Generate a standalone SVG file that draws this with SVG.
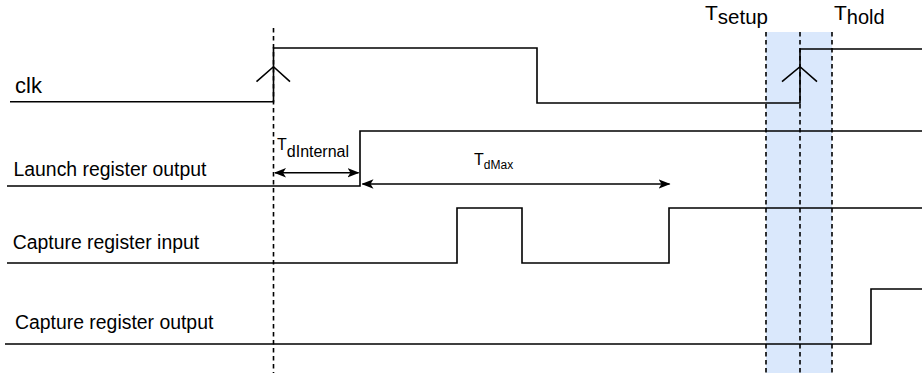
<svg xmlns="http://www.w3.org/2000/svg" width="922" height="379" viewBox="0 0 922 379">
<style>
.w{fill:none;stroke:#000;stroke-width:1.6;stroke-linejoin:miter}
.d{fill:none;stroke:#000;stroke-width:1.6;stroke-dasharray:4.5 3.5}
.t{font-family:"Liberation Sans",Arial,Helvetica,sans-serif;fill:#000}
.a{fill:none;stroke:#000;stroke-width:1.6}
</style>
<defs>
<marker id="ah" viewBox="0 0 12 10" refX="11" refY="5" markerWidth="12" markerHeight="10" markerUnits="userSpaceOnUse" orient="auto-start-reverse">
<path d="M0,0.3 L12,5 L0,9.7 L3,5 Z" fill="#000"/>
</marker>
</defs>
<rect id="window" x="766" y="32" width="66" height="341" fill="#dae8fc"/>
<g id="guides">
<line class="d" x1="273.5" y1="28" x2="273.5" y2="373"/>
<line class="d" x1="766" y1="32" x2="766" y2="373"/>
<line class="d" x1="800" y1="32" x2="800" y2="373"/>
<line class="d" x1="832" y1="32" x2="832" y2="373"/>
</g>
<g id="clk">
<polyline class="w" points="10,101.7 273.5,101.7 273.5,48 537,48 537,103 800,103 800,49 922,49"/>
<polyline class="w" points="256.5,81.7 273.5,66.7 290,81.7"/>
<polyline class="w" points="782,81.7 800,66.7 817,81.7"/>
<text class="t" x="15" y="93" font-size="22">clk</text>
</g>
<g id="launch">
<polyline class="w" points="7,186 360,186 360,131 922,131"/>
<text class="t" x="13.5" y="176" font-size="19.4">Launch register output</text>
</g>
<g id="capture-input">
<polyline class="w" points="7,263 457,263 457,208 522,208 522,263 669,263 669,208 922,208"/>
<text class="t" x="12.7" y="249" font-size="19.4">Capture register input</text>
</g>
<g id="capture-output">
<polyline class="w" points="5,344 871,344 871,289 922,289"/>
<text class="t" x="15" y="329" font-size="19.4">Capture register output</text>
</g>
<g id="labels">
<text class="t" x="277" y="150" font-size="16">T<tspan dy="6.5" font-size="16">dInternal</tspan></text>
<text class="t" x="474" y="165" font-size="16">T<tspan dy="4" font-size="12">dMax</tspan></text>
<text class="t" x="705" y="20" font-size="21">T<tspan dy="3.5" font-size="20.5">setup</tspan></text>
<text class="t" x="834" y="20" font-size="21">T<tspan dy="3.5" font-size="20">hold</tspan></text>
</g>
<g id="connectors">
<line class="a" x1="275" y1="172.7" x2="358.5" y2="172.7" marker-start="url(#ah)" marker-end="url(#ah)"/>
<line class="a" x1="362.5" y1="184" x2="669.5" y2="184" marker-start="url(#ah)" marker-end="url(#ah)"/>
</g>
</svg>
